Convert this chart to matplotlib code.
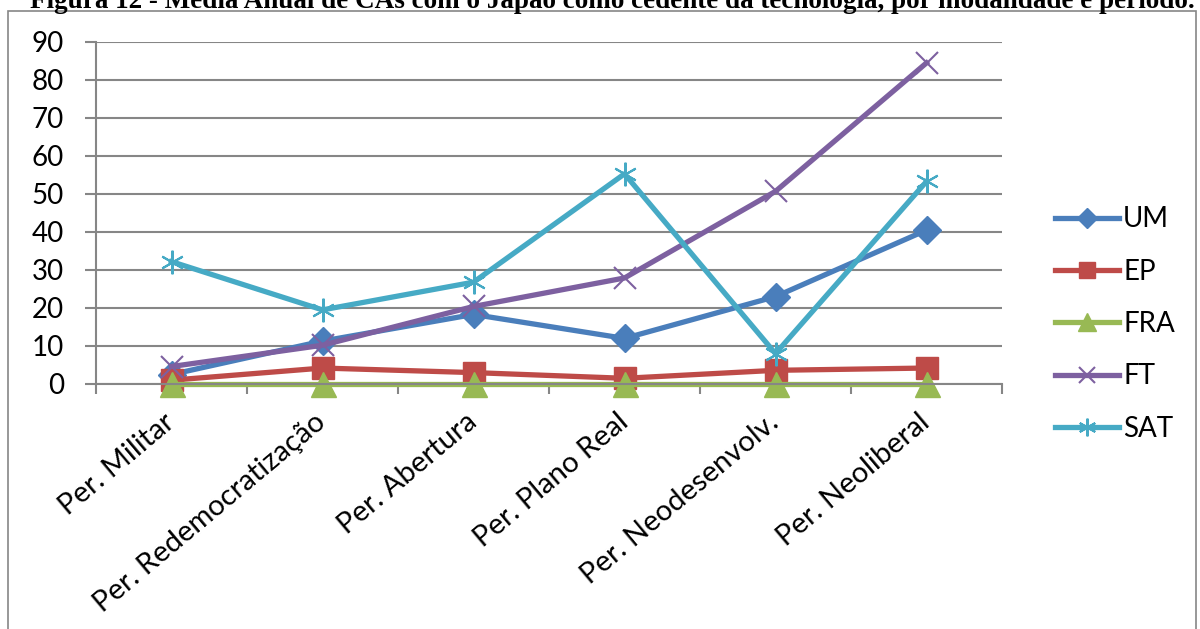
import matplotlib.pyplot as plt
from matplotlib.patches import Rectangle
from matplotlib.transforms import ScaledTranslation

categories = ['Per. Militar', 'Per. Redemocratização', 'Per. Abertura',
              'Per. Plano Real', 'Per. Neodesenvolv.', 'Per. Neoliberal']
um = [2.5, 11.3, 18.3, 12.0, 23.0, 40.5]
ep = [1.0, 4.2, 3.0, 1.5, 3.6, 4.2]
fra = [0, 0, 0, 0, 0, 0]
ft = [4.6, 10.2, 20.4, 27.9, 50.7, 84.5]
sat = [32.2, 19.5, 26.8, 55.3, 8.0, 53.3]
yticks = [0, 10, 20, 30, 40, 50, 60, 70, 80, 90]

plt.rcParams['font.family'] = ['Lato', 'DejaVu Sans']

fig = plt.figure(figsize=(12, 6.29), dpi=100)

# outer chart frame (bottom runs off the page)
fig.patches.append(Rectangle((8 / 1200, -0.2), 1188 / 1200, 1.2 - 11 / 629,
                             transform=fig.transFigure, fill=False,
                             edgecolor='#868686', linewidth=1.2))

# title sits partly above the page, as in the source scan
fig.text(0.51, 1 - 8 / 629,
         'Figura 12 - Média Anual de CAs com o Japão como cedente da tecnologia, por modalidade e período.',
         ha='center', va='baseline', fontsize=19.5, fontweight='bold',
         family='Liberation Serif')

ax = fig.add_axes([96 / 1200, 1 - 384 / 629, 906 / 1200, 342 / 629])

x = list(range(len(categories)))
ax.plot(x, um, color='#4A7EBB', lw=3.8, marker='D', ms=14, label='UM', clip_on=False)
ax.plot(x, ep, color='#BE4B48', lw=3.8, marker='s', ms=16, label='EP', clip_on=False)
ax.plot(x, fra, color='#98B954', lw=3.8, marker='^', ms=18, label='FRA', clip_on=False)
ax.plot(x, ft, color='#7D60A0', lw=3.8, marker='x', ms=16, mew=1.5, label='FT', clip_on=False)
ax.plot(x, sat, color='#46AAC5', lw=3.8, marker=(6, 2, 0), ms=17, mew=1.5, label='SAT', clip_on=False)

ax.set_xlim(-0.5, len(categories) - 0.5)
ax.set_ylim(0, 90)
ax.set_yticks(yticks)
ax.set_yticklabels([str(v) for v in yticks], fontsize=20)
ax.yaxis.grid(True, color='#868686', lw=1.5)
ax.set_axisbelow(True)

ax.set_xticks([i - 0.5 for i in range(len(categories) + 1)])
ax.set_xticklabels([])
ax.set_xticks(x, minor=True)
labels = ax.set_xticklabels(categories, minor=True, rotation=40, ha='right',
                            va='center', rotation_mode='anchor', fontsize=21)
shift = ScaledTranslation(-5 / 100, 0, fig.dpi_scale_trans)
for lab in labels:
    lab.set_transform(lab.get_transform() + shift)
ax.tick_params(axis='x', which='minor', length=0, pad=25)
ax.tick_params(axis='x', which='major', length=7, color='#868686', width=1.5)
ax.tick_params(axis='y', length=8, color='#868686', width=1.5, pad=15)

for s in ['top', 'right']:
    ax.spines[s].set_visible(False)
for s in ['left', 'bottom']:
    ax.spines[s].set_color('#868686')
    ax.spines[s].set_linewidth(1.5)

fig.legend(loc='center left', bbox_to_anchor=(1030 / 1200, 1 - 324 / 629),
           frameon=False, fontsize=20, handlelength=2.3, handletextpad=0.15,
           labelspacing=0.95, markerscale=0.75)

fig.savefig('out.png', dpi=100)
